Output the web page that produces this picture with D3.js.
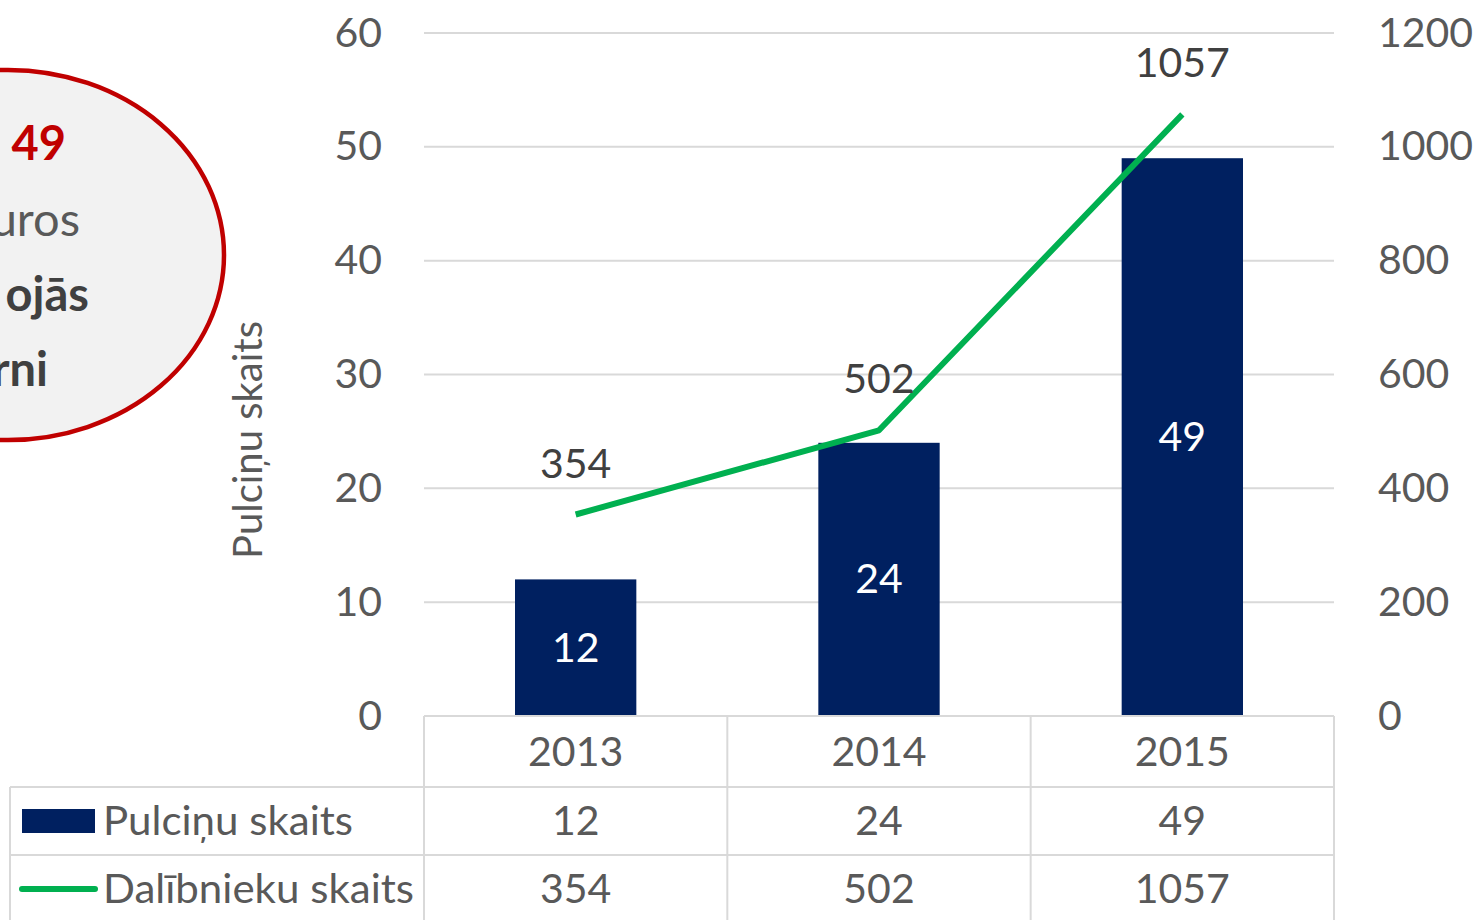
<!DOCTYPE html>
<html>
<head>
<meta charset="utf-8">
<script src="https://cdn.jsdelivr.net/npm/d3@7"></script>
<style>
body{margin:0;background:#fff;}
svg text{font-family:Lato,"Open Sans",sans-serif;}
</style>
</head>
<body>
<svg id="chart" width="1474" height="920"></svg>
<script>
var years=["2013","2014","2015"];
var pulcini=[12,24,49];
var dalibnieki=[354,502,1057];
var leftTicks=[0,10,20,30,40,50,60];
var rightTicks=[0,200,400,600,800,1000,1200];
var seriesNames=["Pulciņu skaits","Dalībnieku skaits"];

var svg=d3.select("#chart");
var plotLeft=424,plotRight=1334,plotTop=33,plotBottom=716;
var rowH=[71,68,68];
var gridColor="#d9d9d9";
var textColor="#595959";
var barColor="#002060";
var lineColor="#00b050";
var fs=41;

var x=d3.scaleBand().domain(years).range([plotLeft,plotRight]).paddingInner(0).paddingOuter(0);
var yL=d3.scaleLinear().domain([0,60]).range([plotBottom,plotTop]);
var yR=d3.scaleLinear().domain([0,1200]).range([plotBottom,plotTop]);
var barW=x.bandwidth()*0.4;

// ellipse callout (cropped at left)
svg.append("ellipse")
    .attr("cx",8).attr("cy",255).attr("rx",216).attr("ry",185)
    .attr("fill","#f2f2f2").attr("stroke","#c00000").attr("stroke-width",4.5);
var callout=[
    {t:"49",x:66,y:160,c:"#c00000",w:"bold"},
    {t:"uros",x:80,y:236,c:textColor,w:"normal"},
    {t:"ojās",x:89,y:311,c:"#404040",w:"bold"},
    {t:"rni",x:48,y:386,c:"#404040",w:"bold"}
];
svg.selectAll("text.callout").data(callout).enter().append("text")
    .attr("class","callout")
    .attr("x",function(d){return d.x;}).attr("y",function(d){return d.y;})
    .attr("text-anchor","end")
    .attr("font-size",47)
    .attr("font-weight",function(d){return d.w;})
    .attr("fill",function(d){return d.c;})
    .text(function(d){return d.t;});

// gridlines
svg.append("g").selectAll("line").data(leftTicks.slice(1)).enter().append("line")
    .attr("x1",plotLeft).attr("x2",plotRight)
    .attr("y1",function(d){return yL(d);}).attr("y2",function(d){return yL(d);})
    .attr("stroke",gridColor).attr("stroke-width",2);

// left axis
var gL=svg.append("g").attr("transform","translate("+plotLeft+",0)")
    .call(d3.axisLeft(yL).tickValues(leftTicks).tickSize(0).tickPadding(42).tickFormat(d3.format("d")));
gL.select(".domain").remove();
gL.selectAll("text").attr("font-size",fs).attr("fill",textColor).attr("font-family","Lato");

// right axis
var gR=svg.append("g").attr("transform","translate("+plotRight+",0)")
    .call(d3.axisRight(yR).tickValues(rightTicks).tickSize(0).tickPadding(44).tickFormat(d3.format("d")));
gR.select(".domain").remove();
gR.selectAll("text").attr("font-size",fs).attr("fill",textColor).attr("font-family","Lato");

// axis title
svg.append("text")
    .attr("transform","translate(262,440) rotate(-90)")
    .attr("text-anchor","middle")
    .attr("font-size",40).attr("fill",textColor)
    .text("Pulciņu skaits");

// bars
svg.append("g").selectAll("rect").data(pulcini).enter().append("rect")
    .attr("x",function(d,i){return x(years[i])+(x.bandwidth()-barW)/2;})
    .attr("y",function(d){return yL(d);})
    .attr("width",barW)
    .attr("height",function(d){return plotBottom-yL(d);})
    .attr("fill",barColor);

svg.append("g").selectAll("text").data(pulcini).enter().append("text")
    .attr("x",function(d,i){return x(years[i])+x.bandwidth()/2;})
    .attr("y",function(d){return (yL(d)+plotBottom)/2+14;})
    .attr("text-anchor","middle").attr("font-size",fs).attr("fill","#fff")
    .text(function(d){return d;});

// line
var line=d3.line()
    .x(function(d,i){return x(years[i])+x.bandwidth()/2;})
    .y(function(d){return yR(d);});
svg.append("path").datum(dalibnieki)
    .attr("d",line).attr("fill","none")
    .attr("stroke",lineColor).attr("stroke-width",6).attr("stroke-linejoin","round");

svg.append("g").selectAll("text").data(dalibnieki).enter().append("text")
    .attr("x",function(d,i){return x(years[i])+x.bandwidth()/2;})
    .attr("y",function(d){return yR(d)-37;})
    .attr("text-anchor","middle").attr("font-size",fs).attr("fill","#404040")
    .text(function(d){return d;});

// data table
var tbl=svg.append("g");
var r0=plotBottom, r1=r0+rowH[0], r2=r1+rowH[1], r3=r2+rowH[2]+10;
var tableLeft=10;
tbl.append("line").attr("x1",plotLeft).attr("x2",plotRight).attr("y1",r0).attr("y2",r0);
tbl.append("line").attr("x1",tableLeft).attr("x2",plotRight).attr("y1",r1).attr("y2",r1);
tbl.append("line").attr("x1",tableLeft).attr("x2",plotRight).attr("y1",r2).attr("y2",r2);
tbl.append("line").attr("x1",tableLeft).attr("x2",tableLeft).attr("y1",r1).attr("y2",r3);
var vx=years.map(function(d){return x(d);}).concat([plotRight]);
tbl.selectAll("line.v").data(vx).enter().append("line").attr("class","v")
    .attr("x1",function(d){return d;}).attr("x2",function(d){return d;})
    .attr("y1",r0).attr("y2",r3);
tbl.selectAll("line").attr("stroke",gridColor).attr("stroke-width",2);

var rowsText=[years,pulcini,dalibnieki];
var rowMid=[(r0+r1)/2,(r1+r2)/2,r2+34];
rowsText.forEach(function(row,ri){
    tbl.append("g").selectAll("text").data(row).enter().append("text")
        .attr("x",function(d,i){return x(years[i])+x.bandwidth()/2;})
        .attr("y",rowMid[ri]+14)
        .attr("text-anchor","middle").attr("font-size",fs).attr("fill",textColor)
        .text(function(d){return d;});
});

// legend keys in table
tbl.append("rect").attr("x",22).attr("y",rowMid[1]-12).attr("width",73).attr("height",24).attr("fill",barColor);
tbl.append("line").attr("x1",22).attr("x2",95).attr("y1",rowMid[2]).attr("y2",rowMid[2])
    .attr("stroke",lineColor).attr("stroke-width",6).attr("stroke-linecap","round");
tbl.selectAll("text.leg").data(seriesNames).enter().append("text").attr("class","leg")
    .attr("x",103).attr("y",function(d,i){return rowMid[i+1]+14;})
    .attr("font-size",41).attr("fill",textColor)
    .attr("textLength",function(d,i){return i===0?250:311;})
    .attr("lengthAdjust","spacingAndGlyphs")
    .text(function(d){return d;});
</script>
</body>
</html>
